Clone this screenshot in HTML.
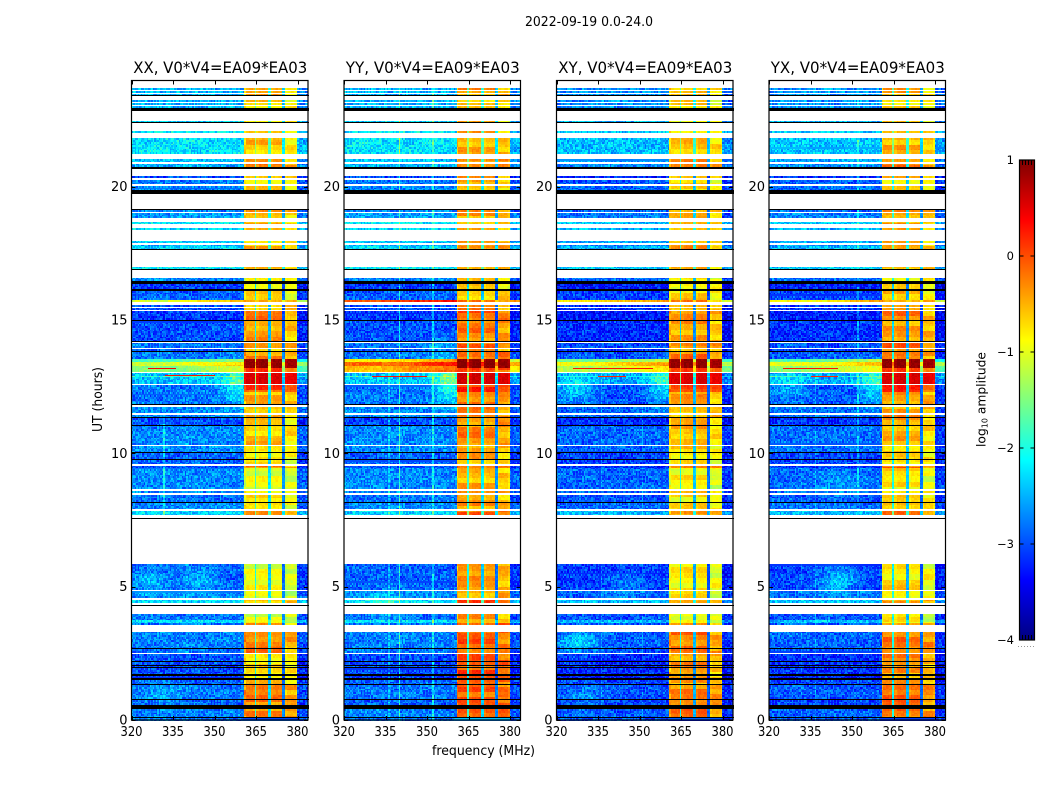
<!DOCTYPE html>
<html>
<head>
<meta charset="utf-8">
<title>2022-09-19 0.0-24.0</title>
<style>
html,body{margin:0;padding:0;background:#fff;width:1050px;height:800px;overflow:hidden}
#figure{position:relative;width:1050px;height:800px;font-family:"DejaVu Sans","Liberation Sans",sans-serif}
canvas{position:absolute;image-rendering:pixelated}
svg{position:absolute;left:0;top:0}
text{fill:#000;font-family:"DejaVu Sans","Liberation Sans",sans-serif}
</style>
</head>
<body>
<div id="figure">
<svg id="overlay" width="1050" height="800">
<text x="589" y="26" text-anchor="middle" font-size="13" textLength="128" lengthAdjust="spacingAndGlyphs">2022-09-19 0.0-24.0</text>
<text x="483.5" y="755" text-anchor="middle" font-size="13" textLength="103" lengthAdjust="spacingAndGlyphs">frequency (MHz)</text>
<text transform="translate(102,399.5) rotate(-90)" text-anchor="middle" font-size="13" textLength="65" lengthAdjust="spacingAndGlyphs">UT (hours)</text>
<text transform="translate(985.5,399.5) rotate(-90)" text-anchor="middle" font-size="12.3">log<tspan font-size="8" dy="2">10</tspan><tspan dy="-2"> amplitude</tspan></text>
</svg>
</div>
<script>
const W = 'white', K = 'black';
const panelTitles = ['XX, V0*V4=EA09*EA03', 'YY, V0*V4=EA09*EA03', 'XY, V0*V4=EA09*EA03', 'YX, V0*V4=EA09*EA03'];
const freqTicks = [320, 335, 350, 365, 380];
const hourTicks = [0, 5, 10, 15, 20];
const colorTicks = [1, 0, -1, -2, -3, -4];

const segmentTopHour = [
23.96,23.70,23.63,23.59,23.51,23.48,23.44,23.40,23.25,23.18,23.14,23.06,23.03,22.93,22.84,
22.46,22.43,22.39,22.09,22.01,21.81,21.21,21.04,20.91,20.86,20.74,20.66,20.40,20.31,20.25,
20.09,20.03,19.88,19.71,19.16,19.13,19.04,19.01,18.83,18.69,18.60,18.45,18.38,17.97,17.88,
17.81,17.76,17.66,17.61,17.00,16.91,16.88,16.59,16.46,16.35,16.15,16.09,15.75,15.67,15.56,
15.50,15.46,15.38,15.34,15.00,14.96,14.22,14.19,14.15,13.96,13.90,13.85,13.79,13.53,13.44,
13.28,13.19,13.06,13.02,12.90,12.86,12.60,12.55,12.30,11.85,11.80,11.74,11.52,11.45,11.35,
11.31,11.06,11.04,10.31,10.28,10.04,10.00,9.79,9.75,9.61,9.54,9.46,8.66,8.59,8.52,
8.44,8.18,8.14,7.91,7.85,7.69,7.58,7.55,5.85,4.88,4.84,4.56,4.51,4.38,4.31,
4.26,3.98,3.75,3.64,3.56,3.50,3.47,3.43,3.40,3.31,2.69,2.65,2.50,2.46,2.21,
2.18,2.07,2.04,1.97,1.94,1.73,1.66,1.56,1.50,1.35,1.31,0.80,0.75,0.56,0.41,
0.12,0.07
];
const segmentBackground = [
W,-2.5,W,-2.5,W,-2.5,K,W,-2.5,W,-2.5,W,-2.5,K,W,
-2.3,K,W,-2.2,W,-2.25,W,-2.4,W,-2.5,K,W,-3.0,W,-2.8,
W,-2.7,K,W,K,-2.7,W,-2.6,W,-2.2,W,-2.3,W,-2.4,W,
-2.5,-2.3,K,W,-2.2,K,W,-2.7,K,-3.1,K,-2.9,-0.4,W,-3.0,
W,-3.0,W,-3.1,K,-3.0,K,W,-2.8,W,-3.0,K,-2.8,-1.2,-0.5,
-0.9,-0.9,W,-2.4,-1.9,-2.4,W,-2.8,-2.8,K,W,-2.7,W,-2.7,K,
-3.0,K,-2.7,W,-2.7,K,-2.9,K,-2.9,W,-3.0,-2.7,W,-2.7,W,
-2.8,K,-2.7,W,-2.3,W,K,W,-2.9,W,-2.7,W,-2.3,W,K,
W,-2.8,-2.3,-2.8,W,K,W,K,W,-2.75,K,-2.8,W,-3.0,K,
-3.0,K,-3.0,K,-3.0,K,-3.1,K,-2.9,K,-2.8,K,-2.9,K,-2.75,
K,-2.8
];
const segmentBandLevel = [
0,-0.35,0,-0.35,0,-0.35,0,0,-0.5,0,-0.5,0,-0.5,0,0,
-0.5,0,0,-0.4,0,-0.35,0,-0.2,0,-0.05,0,0,-0.4,0,-0.5,
0,-0.5,0,0,0,-0.1,0,-0.3,0,-0.3,0,-0.4,0,-0.3,0,
-0.3,-0.2,0,0,-0.3,0,0,-0.6,0,-0.6,0,-0.5,-0.2,0,-0.3,
0,-0.3,0,-0.1,0,-0.2,0,0,-0.05,0,-0.3,0,-0.05,0.95,0.95,
0.95,0.2,0,0.6,0.6,0.6,0,0.3,-0.2,0,0,-0.25,0,-0.2,0,
-0.3,0,-0.3,0,-0.4,0,-0.45,0,-0.5,-0.55,0,-0.5,0,-0.3,
0,-0.4,0,-0.3,0,0,0,-0.4,0,-0.4,0,-0.45,0,0,0,
0,-0.5,-0.5,-0.5,0,0,0,0,0,-0.1,0,-0.35,0,0.25,0,
0.2,0,0.2,0,0.2,0,0.1,0,-0.05,0,-0.4,0,-0.4,0,-0.45,
0,-0.35
];

const bandBias = -0.12;
const bandZoneTopHour = [24, 17.0, 15.34, 13.9, 11.85, 9.46, 7.6, 5.85, 3.31, 2.46, 1.31];
const panelZoneOffset = [
  [0, 0, 0, 0, -0.1, -0.2, 0, -0.3, -0.05, -0.45, 0],
  [0, 0, 0.05, 0, 0.05, 0.05, 0, 0.1, 0, 0.05, 0.05],
  [0, 0, 0, 0, -0.05, -0.15, 0, -0.2, 0, -0.2, 0],
  [0, 0, 0, 0, -0.05, -0.1, 0, -0.2, 0, -0.2, 0]
];
const panelBackgroundOffset = [0.0, 0.0, -0.18, -0.14];
const panelCoreOffset = [-0.6, 0.35, -0.35, -0.5];
const panelBandOffsets = [
  [-0.1, -0.08, -0.12, -0.28],
  [0.05, 0.05, 0.0, -0.1],
  [-0.14, -0.06, -0.06, -0.28],
  [-0.04, 0.0, -0.08, -0.24]
];
const panelRfiMHz = [[332, 340], [336, 340, 352], [336, 351], [332, 337, 352]];
const panelRfiLift = [[0.55, 0.12], [0.35, 0.85, 0.6], [0.25, 0.25], [0.2, 0.3, 0.45]];
const panelRfiFromHour = [[7.6, 0], [0, 0, 0], [0, 0], [0, 0, 8]];
const panelRfiToHour = [[11.3, 13], [13, 24, 24], [13, 13], [13, 13, 24]];
const panelBlobMHz = [[358, 327, 345, 332], [358, 335, 355], [358, 327, 328, 345, 330], [358, 345, 327, 345]];
const panelBlobHour = [[12.6, 5.2, 5.2, 1.0], [12.6, 4.4, 13.9], [12.6, 12.4, 2.9, 5.1, 0.9], [12.6, 5.2, 12.4, 8.8]];
const panelBlobGain = [[0.7, 0.4, 0.4, 0.3], [0.9, 0.4, 0.3], [0.75, 0.6, 0.55, 0.3, 0.3], [0.75, 0.65, 0.4, 0.25]];

const streakPanel = [0, 0, 1, 2, 2, 3, 3];
const streakHour = [13.18, 12.93, 12.91, 13.18, 12.91, 13.18, 12.91];
const streakStartMHz = [326, 332, 330, 326, 335, 325, 335];
const streakEndMHz = [336, 350, 350, 355, 345, 345, 345];
const streakLevel = [0.4, 0.3, 0.3, 0.3, 0.2, 0.3, 0.2];

const bandEdgesMHz = [360.5, 365.35, 370.35, 375.35, 380];
const gapMHz = [365, 370, 375];
const gapLift = [0.85, 0.5, 0.05];
const speckle = [0.3,-0.5,0.1,0.7,-0.2,-0.8,0.4,0.0,-0.4,0.9,-0.1,0.5,-0.7,0.2,-0.3,0.6,-0.9,0.1,0.4,-0.6,0.8,-0.2,0.0,-0.5,0.3,0.7,-0.1,-0.7,0.5,0.2,-0.4,0.6,-0.3,-0.8,0.1,0.9,-0.5,0.4,-0.1,0.2,-0.6];
const rowBanding = [0.1,-0.4,0.6,0.3,-0.2,-0.7,0.5,0.9,-0.1,-0.5,0.2,0.7,-0.3,-0.8,0.4,0.0,-0.6,0.8,0.1,-0.2,0.5,-0.9,0.3];

const axLeft = [131.5, 344, 556.5, 769];
const axWidth = 176.5, axTop = 80.5, axBottom = 720;
const xScale = 166 / 60, yScale = 26.67;
const channelWidth = 0.55, rowHours = 0.065;
const svgNS = 'http://www.w3.org/2000/svg';
const figure = document.getElementById('figure');
const overlay = document.getElementById('overlay');

function xOf(mhz, p) { return axLeft[p] + (mhz - 320) * xScale; }
function yOf(hour) { return axBottom - hour * yScale; }

function jetPart(v) { return Math.max(0, Math.min(1, v)); }
function jet(level) {
  const n = jetPart((level + 4) / 5);
  const r = jetPart(Math.min(4 * n - 1.5, -4 * n + 4.5));
  const g = jetPart(Math.min(4 * n - 0.5, -4 * n + 3.5));
  const b = jetPart(Math.min(4 * n + 0.5, -4 * n + 2.5));
  return 'rgb(' + Math.round(r * 255) + ',' + Math.round(g * 255) + ',' + Math.round(b * 255) + ')';
}

function zoneOffset(p, hour) {
  let zone = 0;
  while (zone + 1 < bandZoneTopHour.length && hour < bandZoneTopHour[zone + 1]) zone++;
  return panelZoneOffset[p][zone];
}

let currentHour = 0;
function cellLevel(p, f, c, r, bg, band) {
  const s = speckle[(c * 7 + r * 13 + c * r) % speckle.length];
  const bandPart = Math.floor(r / 3) + Math.floor(c / 25) * 2;
  const rb = rowBanding[bandPart % rowBanding.length];
  const core = bg > -1.5;
  let base = bg + (core ? panelCoreOffset[p] : panelBackgroundOffset[p]);
  if (core && f < 360.5) base += Math.max(0, (f - 335) / 25) * 0.45;
  panelBlobMHz[p].forEach(function (m, i) {
    const dx = (f - m) / (i === 0 ? 5 : 7);
    const dy = (currentHour - panelBlobHour[p][i]) / (i === 0 ? 0.75 : 0.5);
    base += panelBlobGain[p][i] * Math.exp(-dx * dx - dy * dy) * (core ? 0 : 1);
  });
  if (f >= bandEdgesMHz[0] && f < bandEdgesMHz[4]) {
    for (let g = 0; g < gapMHz.length; g++) {
      if (Math.abs(f - gapMHz[g]) < channelWidth * 0.6) {
        return Math.min(base + gapLift[g] + s * 0.15, band - 0.5);
      }
    }
    let sub = 0;
    while (sub < 3 && f >= bandEdgesMHz[sub + 1]) sub++;
    const edge = Math.min(f - bandEdgesMHz[sub], bandEdgesMHz[sub + 1] - f);
    const soft = edge < 0.6 ? -0.12 : 0;
    const hot = band > 0.5 ? band : band + bandBias + zoneOffset(p, currentHour) + rb * 0.28;
    return hot + panelBandOffsets[p][sub] * (band > 0.5 ? 0.4 : 1) + soft + s * 0.1;
  }
  if (f >= bandEdgesMHz[4]) base -= core ? 0.3 : 0.2;
  panelRfiMHz[p].forEach(function (m, i) {
    if (Math.abs(f - m) < channelWidth * 0.55 && !core &&
        currentHour >= panelRfiFromHour[p][i] && currentHour <= panelRfiToHour[p][i]) {
      base += panelRfiLift[p][i];
    }
  });
  return base + s * (core ? 0.18 : 0.42) + rb * 0.08;
}

function drawPanel(p) {
  const canvas = document.createElement('canvas');
  
  
  canvas.width = Math.round(axWidth);
  canvas.height = Math.round(axBottom - axTop);
  canvas.style.left = Math.round(axLeft[p]) + 'px';
  canvas.style.top = Math.round(axTop) + 'px';
  figure.insertBefore(canvas, overlay);
  const ctx = canvas.getContext('2d');
  const ox = Math.round(axLeft[p]), oy = Math.round(axTop);
  ctx.fillStyle = '#fff';
  ctx.fillRect(0, 0, canvas.width, canvas.height);
  const channels = Math.ceil(axWidth / xScale / channelWidth);
  let rowIndex = p * 5;
  segmentTopHour.forEach(function (top, i) {
    const bottom = i + 1 < segmentTopHour.length ? segmentTopHour[i + 1] : 0;
    const bg = segmentBackground[i];
    const band = segmentBandLevel[i];
    const y0 = Math.round(yOf(top)) - oy, y1 = Math.round(yOf(bottom)) - oy;
    if (bg === W || bg === K) {
      ctx.fillStyle = bg === W ? '#fff' : '#000';
      ctx.fillRect(0, y0, canvas.width, Math.max(1, y1 - y0));
      return;
    }
    for (let h = top; h > bottom + 0.001; h -= rowHours) {
      const rowBottom = Math.max(bottom, h - rowHours);
      currentHour = (h + rowBottom) / 2;
      const ry0 = Math.round(yOf(h)) - oy, ry1 = Math.round(yOf(rowBottom)) - oy;
      for (let c = 0; c < channels; c++) {
        const f = 320 + (c + 0.5) * channelWidth;
        const cx0 = Math.round(xOf(f - channelWidth / 2, p)) - ox;
        const cx1 = Math.round(xOf(f + channelWidth / 2, p)) - ox;
        ctx.fillStyle = jet(cellLevel(p, f, c, rowIndex, bg, band));
        ctx.fillRect(cx0, ry0, cx1 - cx0, Math.max(1, ry1 - ry0));
      }
      rowIndex++;
    }
  });
  streakHour.forEach(function (h, i) {
    if (streakPanel[i] !== p) return;
    const sx0 = Math.round(xOf(streakStartMHz[i], p)) - ox;
    const sx1 = Math.round(xOf(streakEndMHz[i], p)) - ox;
    ctx.fillStyle = jet(streakLevel[i]);
    ctx.fillRect(sx0, Math.round(yOf(h)) - oy, sx1 - sx0, 1);
  });
}

function drawAxes(p) {
  const g = document.createElementNS(svgNS, 'g');
  
  
  overlay.appendChild(g);
  const frame = document.createElementNS(svgNS, 'rect');
  
  
  frame.setAttribute('x', axLeft[p]);
  frame.setAttribute('y', axTop);
  frame.setAttribute('width', axWidth);
  frame.setAttribute('height', axBottom - axTop);
  frame.setAttribute('fill', 'none');
  frame.setAttribute('stroke', '#000');
  frame.setAttribute('stroke-width', '1.2');
  g.appendChild(frame);
  function tick(x1, y1, x2, y2) {
    const l = document.createElementNS(svgNS, 'line');
    
    
    l.setAttribute('x1', x1); l.setAttribute('y1', y1);
    l.setAttribute('x2', x2); l.setAttribute('y2', y2);
    l.setAttribute('stroke', '#000');
    l.setAttribute('stroke-width', '1');
    g.appendChild(l);
  }
  function label(x, y, anchor, str, size, name, len) {
    const t = document.createElementNS(svgNS, 'text');
    
    
    t.setAttribute('x', x); t.setAttribute('y', y);
    t.setAttribute('text-anchor', anchor);
    t.setAttribute('font-size', size);
    if (len) {
      t.setAttribute('textLength', len);
      t.setAttribute('lengthAdjust', 'spacingAndGlyphs');
    }
    t.textContent = str;
    g.appendChild(t);
  }
  freqTicks.forEach(function (f) {
    const x = Math.round(xOf(f, p)) + 0.5;
    tick(x, axTop, x, axTop + 4);
    tick(x, axBottom, x, axBottom - 4);
    label(xOf(f, p), 736, 'middle', String(f), 13, 'x-tick-label', 22);
  });
  hourTicks.forEach(function (h) {
    const y = Math.round(yOf(h)) + 0.5;
    tick(axLeft[p], y, axLeft[p] + 4, y);
    tick(axLeft[p] + axWidth, y, axLeft[p] + axWidth - 4, y);
    label(axLeft[p] - 4, yOf(h) + 4.5, 'end', String(h), 13, 'y-tick-label');
  });
  label(axLeft[p] + axWidth / 2 + 0.5, 73, 'middle', panelTitles[p], 16, 'panel-title', 174);
}

function drawColorbar() {
  const g = document.createElementNS(svgNS, 'g');
  
  
  overlay.appendChild(g);
  const left = 1019.5, right = 1034.5, top = 160, bottom = 640;
  const yScaleBar = (bottom - top) / 5;
  for (let py = top; py < bottom; py++) {
    const rect = document.createElementNS(svgNS, 'rect');
    
    
    rect.setAttribute('x', left); rect.setAttribute('y', py);
    rect.setAttribute('width', right - left); rect.setAttribute('height', 1.2);
    rect.setAttribute('fill', jet(1 - (py + 0.5 - top) / yScaleBar));
    g.appendChild(rect);
  }
  const frame = document.createElementNS(svgNS, 'rect');
  
  
  frame.setAttribute('x', left); frame.setAttribute('y', top);
  frame.setAttribute('width', right - left); frame.setAttribute('height', bottom - top);
  frame.setAttribute('fill', 'none');
  frame.setAttribute('stroke', '#000');
  frame.setAttribute('stroke-width', '1.2');
  g.appendChild(frame);
  function seg(x1, y1, x2, y2) {
    const l = document.createElementNS(svgNS, 'line');
    
    
    l.setAttribute('x1', x1); l.setAttribute('y1', y1);
    l.setAttribute('x2', x2); l.setAttribute('y2', y2);
    l.setAttribute('stroke', '#000');
    l.setAttribute('stroke-width', '1');
    g.appendChild(l);
  }
  colorTicks.forEach(function (v) {
    const y = top + (1 - v) * yScaleBar;
    seg(left, y, left + 4, y);
    seg(right, y, right - 4, y);
    const t = document.createElementNS(svgNS, 'text');
    
    
    t.setAttribute('x', 1014); t.setAttribute('y', y + 4);
    t.setAttribute('text-anchor', 'end');
    t.setAttribute('font-size', '11.5');
    t.textContent = String(v).replace('-', '\u2212');
    g.appendChild(t);
  });
  for (let x = left + 3; x < right - 1; x += 3) {
    seg(x, top, x, top + 5);
    seg(x, bottom, x, bottom - 5);
  }
  const dots = document.createElementNS(svgNS, 'line');
  
  
  dots.setAttribute('x1', 1018); dots.setAttribute('y1', 646.5);
  dots.setAttribute('x2', 1035); dots.setAttribute('y2', 646.5);
  dots.setAttribute('stroke', '#999');
  dots.setAttribute('stroke-dasharray', '1 2');
  g.appendChild(dots);
}

for (let p = 0; p < panelTitles.length; p++) { drawPanel(p); drawAxes(p); }
drawColorbar();
</script>
</body>
</html>
